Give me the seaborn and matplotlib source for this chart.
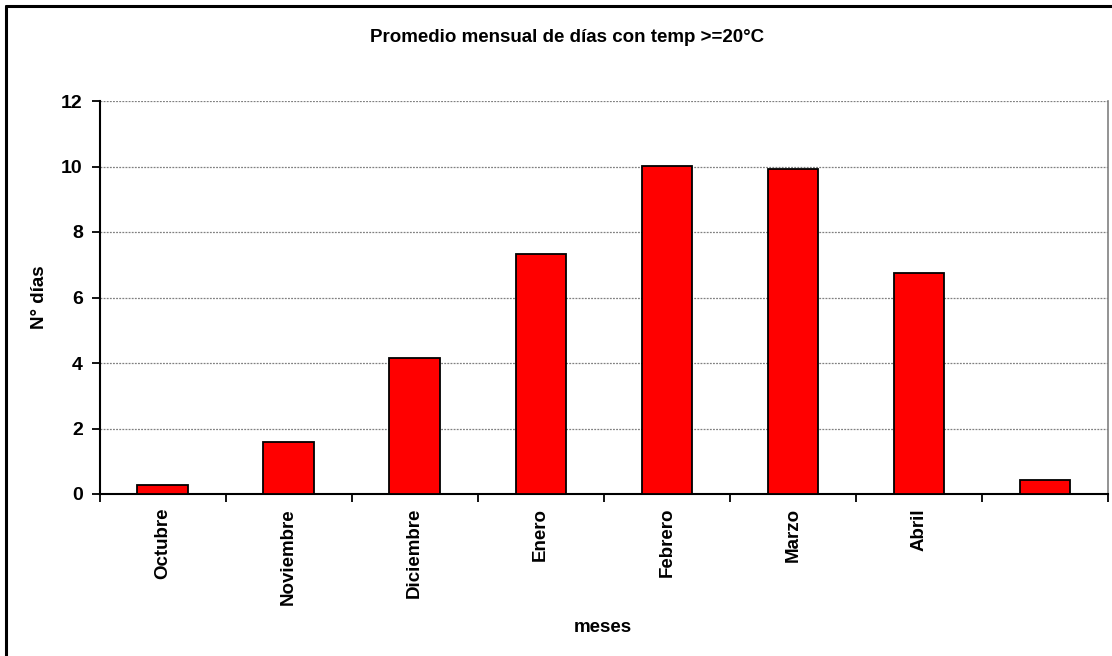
import numpy as np
import pandas as pd
import matplotlib
matplotlib.use("Agg")
import matplotlib.pyplot as plt
from matplotlib.lines import Line2D
import seaborn as sns

months = ["Octubre", "Noviembre", "Diciembre", "Enero", "Febrero", "Marzo", "Abril", ""]
days = [0.28, 1.6, 4.15, 7.33, 10.03, 9.93, 6.75, 0.43]
yticks = [0, 2, 4, 6, 8, 10, 12]

sns.set_theme(style="white")
plt.rcParams['font.family'] = ['Liberation Sans', 'DejaVu Sans']
plt.rcParams['font.weight'] = 'bold'
plt.rcParams['text.color'] = 'black'
plt.rcParams['axes.labelcolor'] = 'black'
plt.rcParams['xtick.color'] = 'black'
plt.rcParams['ytick.color'] = 'black'

FS = 13.5
W, H = 1112, 656
fig = plt.figure(figsize=(W / 100, H / 100), dpi=100)
fig.patch.set_facecolor("white")
ax = fig.add_axes([99.5 / W, 1 - 494 / H, (1108 - 99.5) / W, (494 - 101) / H])

df = pd.DataFrame({"mes": months, "dias": days})
sns.barplot(data=df, x="mes", y="dias", order=months, color="#FF0000",
            saturation=1, width=0.4, edgecolor="black", linewidth=1.3, ax=ax, zorder=3)

ax.set_xlim(-0.5, len(months) - 0.5)
ax.set_ylim(0, 12)
ax.set_yticks(yticks)
ax.set_yticklabels([str(v) for v in yticks], fontsize=14, fontweight="bold", color="black")
ax.yaxis.grid(True, color="#808080", linestyle=(0, (1.5, 1.0)), linewidth=0.9, zorder=0)
ax.xaxis.grid(False)

ax.set_xticks(range(len(months)))
ax.set_xticklabels(months, rotation=90, fontsize=FS, fontweight="bold", color="black")
ax.tick_params(axis="x", which="major", length=0, pad=10)
ax.set_xticks(np.arange(-0.5, len(months), 1), minor=True)
ax.tick_params(axis="x", which="minor", length=6, width=1.3, color="black", direction="out", bottom=True)
ax.tick_params(axis="y", which="major", length=6, width=1.3, color="black", direction="out", left=True, pad=6)

for s in ["left", "bottom"]:
    ax.spines[s].set_color("black")
    ax.spines[s].set_linewidth(1.5)
for s in ["top", "right"]:
    ax.spines[s].set_color("#808080")
    ax.spines[s].set_linewidth(1.2)
ax.spines["top"].set_visible(False)

ax.set_xlabel("meses", fontsize=FS, fontweight="bold", color="black")
ax.set_ylabel("N° días", fontsize=FS, fontweight="bold", color="black")
ax.xaxis.set_label_coords(503.5 / (1108 - 99.5), -(627 - 494) / (494 - 101))
ax.yaxis.set_label_coords(-(99.5 - 40) / (1108 - 99.5), 0.5)
ax.xaxis.label.set_verticalalignment("center")
ax.yaxis.label.set_verticalalignment("center")

fig.text(567 / W, 1 - 38 / H, "Promedio mensual de días con temp >=20°C",
         ha="center", va="center", fontsize=FS, fontweight="bold", color="black")

# outer chart border (left and top visible, right/bottom beyond the image)
fig.add_artist(Line2D([6 / W, 6 / W], [1 - 6 / H, -0.01], color="black", linewidth=2.2, transform=fig.transFigure))
fig.add_artist(Line2D([6 / W, 1.01], [1 - 6 / H, 1 - 6 / H], color="black", linewidth=2.2, transform=fig.transFigure))

fig.savefig("out.png", dpi=100)
